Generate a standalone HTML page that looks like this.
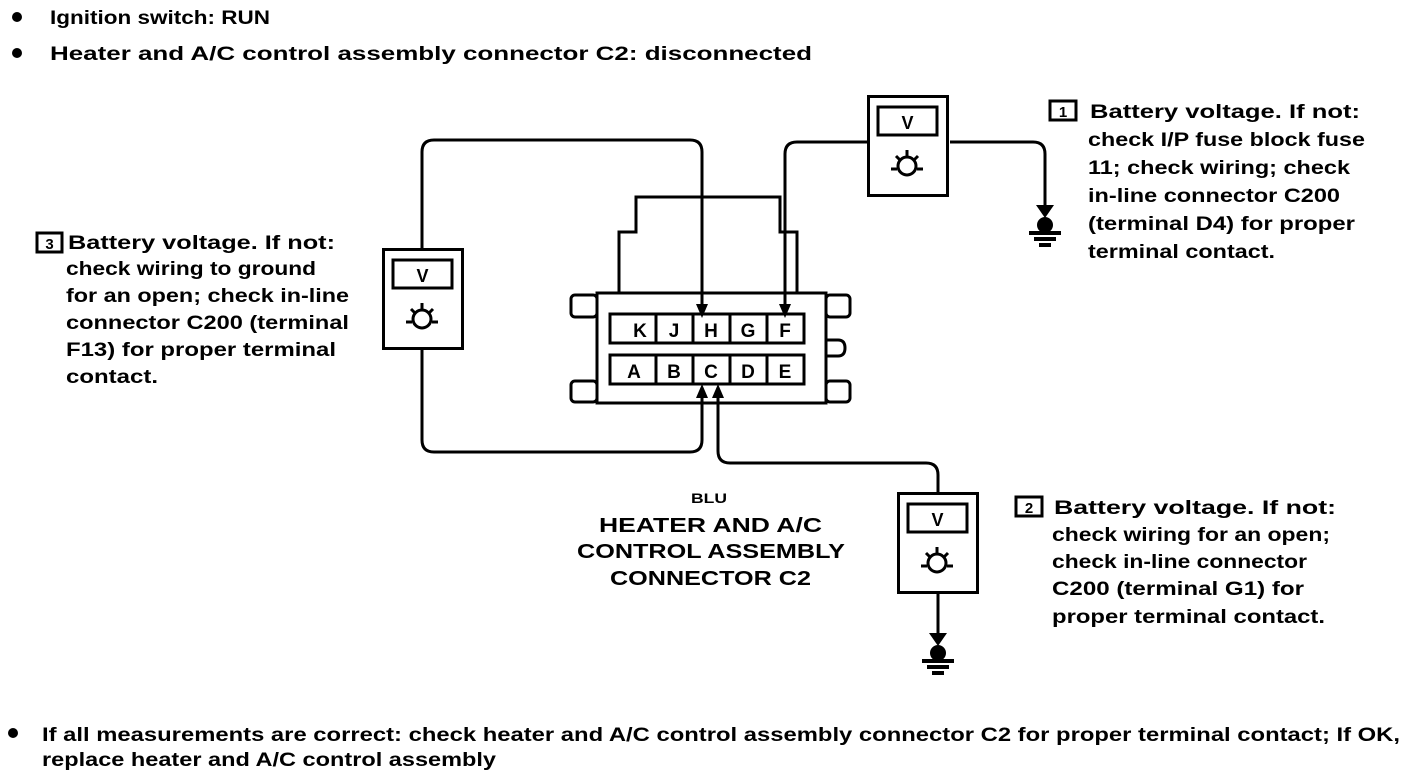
<!DOCTYPE html>
<html><head><meta charset="utf-8"><style>
html,body{margin:0;padding:0;background:#fff;}
svg{display:block;}
text{font-family:"Liberation Sans",sans-serif;font-weight:bold;fill:#000;}
</style></head><body>
<svg width="1408" height="776" viewBox="0 0 1408 776" xmlns="http://www.w3.org/2000/svg">
<defs>
<g id="meter">
<rect x="1.5" y="1.5" width="79" height="99" fill="#fff" stroke="#000" stroke-width="3"/>
<rect x="11" y="12" width="59" height="28" fill="#fff" stroke="#000" stroke-width="3"/>
<text x="40.5" y="34" font-size="18" text-anchor="middle">V</text>
<circle cx="40" cy="71" r="9" fill="none" stroke="#000" stroke-width="3"/>
<path d="M40 55v6M24 74h6M50 74h6M29 61l4 4M51 61l-4 4" stroke="#000" stroke-width="3"/>
</g>
<g id="gnd">
<path d="M-9 0h18l-9 13z" fill="#000"/>
<circle cx="0" cy="20" r="8" fill="#000"/>
<rect x="-16" y="26" width="32" height="4" fill="#000"/>
<rect x="-11" y="32" width="22" height="4" fill="#000"/>
<rect x="-6" y="38" width="12" height="4" fill="#000"/>
</g>
</defs>

<g fill="none" stroke="#000" stroke-width="3">
<path d="M619 293V232H636V197H780V232H797V293"/>
<rect x="597" y="293" width="229" height="110" fill="#fff"/>
<rect x="571" y="295" width="26" height="22" rx="4"/>
<rect x="571" y="381" width="26" height="21" rx="4"/>
<rect x="826" y="295" width="24" height="22" rx="4"/>
<rect x="826" y="381" width="24" height="21" rx="4"/>
<path d="M826 340H838Q845 340 845 348Q845 356 838 356H826"/>
<rect x="610" y="314" width="194" height="29"/>
<rect x="610" y="355" width="194" height="29"/>
<path d="M656 314v29M693 314v29M730 314v29M767 314v29M656 355v29M693 355v29M730 355v29M767 355v29"/>
<path d="M422 248V152Q422 140 434 140H690Q702 140 702 152V305"/>
<path d="M422 350V440Q422 452 434 452H690Q702 452 702 440V396"/>
<path d="M867 142H797Q785 142 785 154V305"/>
<path d="M950 142H1033Q1045 142 1045 154V205"/>
<path d="M938 492V475Q938 463 926 463H730Q718 463 718 451V396"/>
<path d="M938 594V633"/>
</g>
<g fill="#000">
<path d="M696 304h12l-6 14z"/>
<path d="M779 304h12l-6 14z"/>
<path d="M696 398h12l-6 -14z"/>
<path d="M712 398h12l-6 -14z"/>
</g>
<use href="#gnd" x="1045" y="205"/>
<use href="#gnd" x="938" y="633"/>
<use href="#meter" x="867" y="95"/>
<use href="#meter" x="382" y="248"/>
<use href="#meter" x="897" y="492"/>

<g font-size="19">
<text x="640" y="337" text-anchor="middle">K</text>
<text x="674" y="337" text-anchor="middle">J</text>
<text x="711" y="337" text-anchor="middle">H</text>
<text x="748" y="337" text-anchor="middle">G</text>
<text x="785" y="337" text-anchor="middle">F</text>
<text x="634" y="378" text-anchor="middle">A</text>
<text x="674" y="378" text-anchor="middle">B</text>
<text x="711" y="378" text-anchor="middle">C</text>
<text x="748" y="378" text-anchor="middle">D</text>
<text x="785" y="378" text-anchor="middle">E</text>
</g>

<circle cx="17" cy="17" r="5" fill="#000"/>
<circle cx="17" cy="53" r="5" fill="#000"/>
<text x="50" y="24" font-size="19" textLength="220" lengthAdjust="spacingAndGlyphs">Ignition switch: RUN</text>
<text x="50" y="60" font-size="19" textLength="762" lengthAdjust="spacingAndGlyphs">Heater and A/C control assembly connector C2: disconnected</text>

<rect x="1050" y="101" width="26" height="19" fill="none" stroke="#000" stroke-width="3"/>
<text x="1063" y="117" font-size="15" text-anchor="middle">1</text>
<g font-size="19">
<text x="1090" y="118" textLength="270" lengthAdjust="spacingAndGlyphs">Battery voltage. If not:</text>
<text x="1088" y="146" textLength="277" lengthAdjust="spacingAndGlyphs">check I/P fuse block fuse</text>
<text x="1088" y="174" textLength="262" lengthAdjust="spacingAndGlyphs">11; check wiring; check</text>
<text x="1088" y="202" textLength="252" lengthAdjust="spacingAndGlyphs">in-line connector C200</text>
<text x="1088" y="230" textLength="267" lengthAdjust="spacingAndGlyphs">(terminal D4) for proper</text>
<text x="1088" y="258" textLength="187" lengthAdjust="spacingAndGlyphs">terminal contact.</text>
</g>

<rect x="37" y="233" width="25" height="19" fill="none" stroke="#000" stroke-width="3"/>
<text x="49.5" y="249" font-size="15" text-anchor="middle">3</text>
<g font-size="19">
<text x="68" y="249" textLength="267" lengthAdjust="spacingAndGlyphs">Battery voltage. If not:</text>
<text x="66" y="275" textLength="250" lengthAdjust="spacingAndGlyphs">check wiring to ground</text>
<text x="66" y="302" textLength="283" lengthAdjust="spacingAndGlyphs">for an open; check in-line</text>
<text x="66" y="329" textLength="283" lengthAdjust="spacingAndGlyphs">connector C200 (terminal</text>
<text x="66" y="356" textLength="270" lengthAdjust="spacingAndGlyphs">F13) for proper terminal</text>
<text x="66" y="383" textLength="92" lengthAdjust="spacingAndGlyphs">contact.</text>
</g>

<rect x="1016" y="497" width="26" height="19" fill="none" stroke="#000" stroke-width="3"/>
<text x="1029" y="513" font-size="15" text-anchor="middle">2</text>
<g font-size="19">
<text x="1054" y="514" textLength="282" lengthAdjust="spacingAndGlyphs">Battery voltage. If not:</text>
<text x="1052" y="541" textLength="278" lengthAdjust="spacingAndGlyphs">check wiring for an open;</text>
<text x="1052" y="568" textLength="255" lengthAdjust="spacingAndGlyphs">check in-line connector</text>
<text x="1052" y="595" textLength="252" lengthAdjust="spacingAndGlyphs">C200 (terminal G1) for</text>
<text x="1052" y="623" textLength="273" lengthAdjust="spacingAndGlyphs">proper terminal contact.</text>
</g>

<text x="691" y="503" font-size="14" textLength="36" lengthAdjust="spacingAndGlyphs">BLU</text>
<g font-size="20">
<text x="599" y="532" textLength="223" lengthAdjust="spacingAndGlyphs">HEATER AND A/C</text>
<text x="577" y="558" textLength="268" lengthAdjust="spacingAndGlyphs">CONTROL ASSEMBLY</text>
<text x="610" y="585" textLength="201" lengthAdjust="spacingAndGlyphs">CONNECTOR C2</text>
</g>

<circle cx="13" cy="733" r="5" fill="#000"/>
<text x="42" y="741" font-size="19" textLength="1358" lengthAdjust="spacingAndGlyphs">If all measurements are correct: check heater and A/C control assembly connector C2 for proper terminal contact; If OK,</text>
<text x="42" y="766" font-size="19" textLength="454" lengthAdjust="spacingAndGlyphs">replace heater and A/C control assembly</text>
</svg>
</body></html>
